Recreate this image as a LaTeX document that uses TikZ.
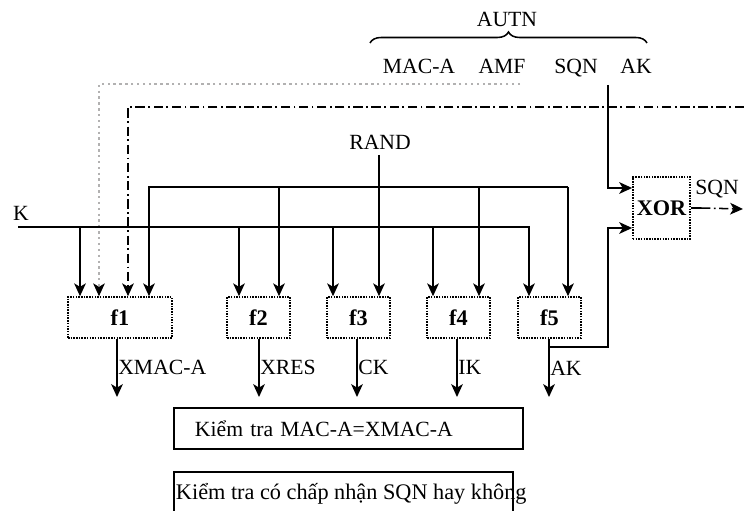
\documentclass[tikz,border=0pt]{standalone}
\usepackage{fontspec}
\setmainfont{Liberation Serif}
\usepackage[dvipsnames]{xcolor}
\usetikzlibrary{arrows.meta,decorations.pathreplacing}
\newcommand{\corA}{black}
\newcommand{\corB}{Gray!70}
\tikzset{
  seta/.style={-{Stealth[length=11pt,width=10pt,inset=3pt,color=\corA]}},
  funcao/.style={draw, densely dotted, line width=1.3pt, minimum width=1.89cm, minimum height=1.23cm, font=\fontsize{19}{22}\selectfont\bfseries},
  caixaTexto/.style={draw, line width=1.8pt, minimum height=1.23cm, align=left},
  tracoponto/.style={dash pattern=on 8pt off 3pt on 1.5pt off 3pt, line width=1.3pt},
  pontilhado/.style={dash pattern=on 2pt off 3pt, line width=1pt, draw=\corB},
  campo/.style={anchor=base},
  rotulo/.style={inner sep=0.5pt}
}
\begin{document}
\begin{tikzpicture}[x=0.03cm, y=-0.03cm, line width=1.3pt, font=\fontsize{18.5}{22}\selectfont]
    \useasboundingbox (0,0) rectangle (744,511);

    % AUTN e seus campos
    \node[campo] (autn) at (507,27) {AUTN};
    \draw[decorate, decoration={brace, amplitude=0.33cm}] (370,43) -- (647,43);
    \node[campo] (macA) at (419,74) {MAC-A};
    \node[campo] (amf)  at (502,74) {AMF};
    \node[campo] (sqn)  at (576,74) {SQN};
    \node[campo] (ak)   at (636,74) {AK};

    % funcoes f1 ... f5
    \node[funcao, minimum width=3.12cm] (f1) at (120,317.5) {f1};
    \node[funcao] (f2) at (258.5,317.5) {f2};
    \node[funcao] (f3) at (358.5,317.5) {f3};
    \node[funcao] (f4) at (458.5,317.5) {f4};
    \node[funcao] (f5) at (549.5,317.5) {f5};
    \node[funcao, minimum width=1.71cm, minimum height=1.86cm] (xor) at (661.5,208) {XOR};

    % linhas que vem de cima (AUTN)
    \draw[pontilhado, seta] (520,84) -- (99,84) -- (99,0 |- f1.north);
    \draw[tracoponto, seta] (744,107) -- (128,107) -- (128,0 |- f1.north);

    % chave K
    \node[campo] (k) at (21,221) {K};
    \coordinate (kIni) at (18,227);
    \coordinate (kFim) at (529,227);
    \draw[seta] (kIni) -- (kFim) -- (kFim |- f5.north);
    \foreach \x/\f in {80/f1, 239/f2, 333/f3, 433/f4}
        \draw[seta] (\x,227) -- (\x,0 |- \f.north);

    % RAND
    \node[campo] (rand) at (380,150) {RAND};
    \coordinate (rIni) at (149,187);
    \coordinate (rFim) at (568,187);
    \draw[seta] (rFim) -- (rIni) -- (rIni |- f1.north);
    \draw[seta] (rFim) -- (rFim |- f5.north);
    \draw[seta] (379,155) -- (379,0 |- f3.north);
    \foreach \x/\f in {279/f2, 479/f4}
        \draw[seta] (\x,187) -- (\x,0 |- \f.north);

    % saidas
    \foreach \x/\f/\txt in {117/f1/XMAC-A, 259/f2/XRES, 357/f3/CK, 457/f4/IK, 549/f5/AK}{
        \coordinate (o\f) at (\x,397);
        \draw[seta] (o\f |- \f.south) -- (o\f) node[pos=0.5, anchor=west, rotulo] {\txt};
    }

    % XOR
    \coordinate (akTopo) at (608,85);
    \coordinate (xorA) at ([yshift=0.6cm]xor.west);
    \coordinate (xorB) at ([yshift=-0.6cm]xor.west);
    \draw[seta] (akTopo) |- (xorA);
    \draw[seta] (549,347) -| (xorB -| akTopo) -- (xorB);
    \coordinate (sqnFim) at (743,209);
    \draw (xor.east) -- ++(10,0) coordinate (sqnMeio);
    \draw[tracoponto, seta] (sqnMeio) -- (sqnFim);
    \node[campo] (sqnSai) at (717,195) {SQN};

    % verificacoes
    \node[caixaTexto, minimum width=10.47cm, inner xsep=0.63cm, text width=9.21cm] (teste1) at (348.5,428.5) {Kiểm tra MAC-A=XMAC-A};
    \node[caixaTexto, minimum width=10.17cm, minimum height=1.3cm, inner xsep=0.06cm] (teste2) at (343.5,494) {\makebox[10.05cm][l]{\fontsize{19}{22}\selectfont Kiểm tra có chấp nhận SQN hay không}};
\end{tikzpicture}
\end{document}
